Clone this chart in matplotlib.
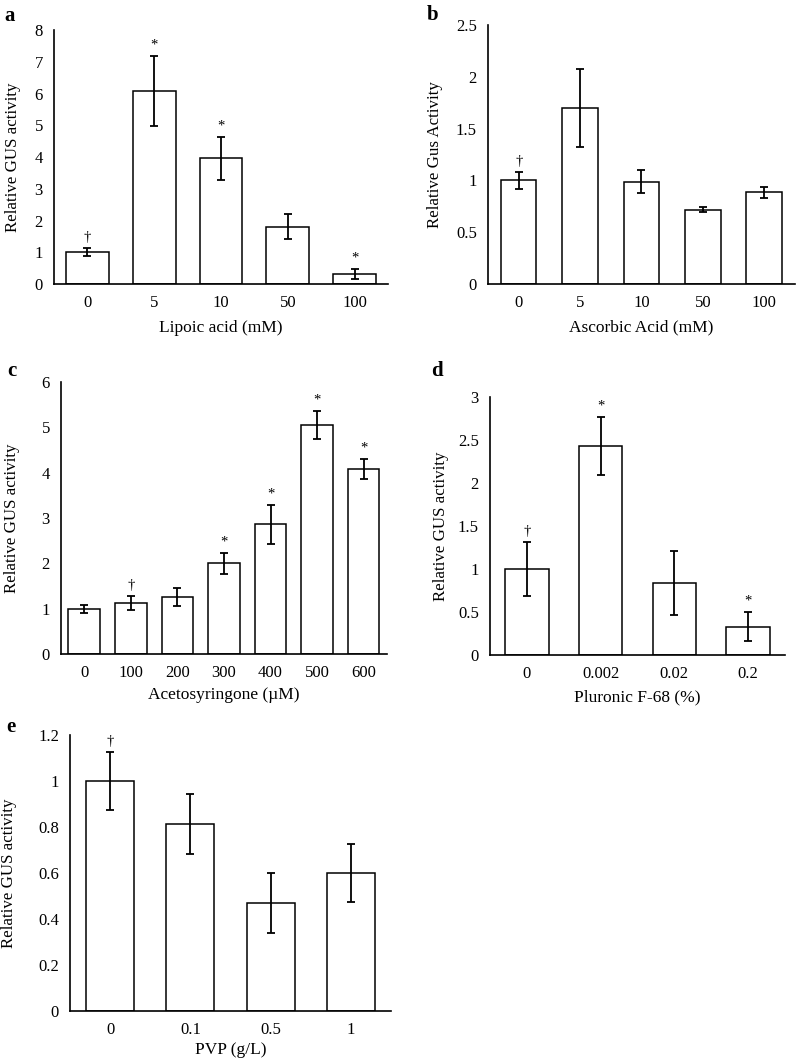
import numpy as np
import matplotlib
matplotlib.use("Agg")
import matplotlib.pyplot as plt

plt.rcParams["font.family"] = ["Liberation Serif", "DejaVu Serif"]

# panel a: lipoic acid
lip_cats = ["0", "5", "10", "50", "100"]
lip_vals = [1.0, 6.09, 3.96, 1.81, 0.32]
lip_err = [0.13, 1.1, 0.68, 0.4, 0.17]
lip_marks = ["\u2020", "*", "*", "", "*"]

# panel b: ascorbic acid
asc_cats = ["0", "5", "10", "50", "100"]
asc_vals = [1.0, 1.70, 0.99, 0.72, 0.885]
asc_err = [0.085, 0.38, 0.11, 0.025, 0.055]
asc_marks = ["\u2020", "", "", "", ""]

# panel c: acetosyringone
aceto_cats = ["0", "100", "200", "300", "400", "500", "600"]
aceto_vals = [0.99, 1.13, 1.26, 2.0, 2.86, 5.06, 4.09]
aceto_err = [0.09, 0.15, 0.2, 0.23, 0.43, 0.31, 0.22]
aceto_marks = ["", "\u2020", "", "*", "*", "*", "*"]

# panel d: pluronic F-68
plur_cats = ["0", "0.002", "0.02", "0.2"]
plur_vals = [1.0, 2.43, 0.84, 0.33]
plur_err = [0.31, 0.34, 0.37, 0.17]
plur_marks = ["\u2020", "*", "", "*"]

# panel e: PVP
pvp_cats = ["0", "0.1", "0.5", "1"]
pvp_vals = [1.0, 0.813, 0.47, 0.60]
pvp_err = [0.127, 0.13, 0.13, 0.128]
pvp_marks = ["\u2020", "", "", ""]


def bar_panel(ax, cats, vals, errs, marks, ylim, ystep, xlabel, ylabel,
              letter, letter_pos, width=0.62, ylab_x=-0.13, xlabpad=7):
    x = np.arange(len(cats))
    ax.bar(x, vals, width=width, color="white", edgecolor="black", lw=1.1,
           yerr=errs, error_kw=dict(ecolor="black", elinewidth=1.3,
                                    capsize=3.2, capthick=1.3))
    for xi, v, e, m in zip(x, vals, errs, marks):
        if m:
            ax.annotate(m, (xi, v + e), xytext=(0, 3), textcoords="offset points",
                        ha="center", va="bottom", fontsize=10.5)
    ax.set_xlim(-0.5, len(cats) - 0.5)
    ax.set_ylim(0, ylim)
    ticks = np.arange(0, ylim + ystep / 2, ystep)
    ax.set_yticks(ticks)
    ax.set_yticklabels([f"{t:g}" for t in ticks])
    ax.set_xticks(x)
    ax.set_xticklabels(cats)
    ax.tick_params(axis="both", length=0, labelsize=12)
    ax.tick_params(axis="y", pad=8)
    ax.tick_params(axis="x", pad=8)
    for s in ("top", "right"):
        ax.spines[s].set_visible(False)
    ax.spines["left"].set_linewidth(1.2)
    ax.spines["bottom"].set_linewidth(1.2)
    ax.set_xlabel(xlabel, fontsize=12.5, labelpad=xlabpad)
    ax.set_ylabel(ylabel, fontsize=12.2)
    ax.yaxis.set_label_coords(ylab_x, 0.5)
    ax.text(letter_pos[0], letter_pos[1], letter, transform=ax.transAxes,
            fontsize=15, fontweight="bold", ha="left", va="center")


fig = plt.figure(figsize=(7.97, 10.64), dpi=100)

ax_a = fig.add_axes([0.0678, 0.733, 0.419, 0.2387])
bar_panel(ax_a, lip_cats, lip_vals, lip_err, lip_marks, 8, 1,
          "Lipoic acid (mM)", "Relative GUS activity", "a", (-0.15, 1.055),
          width=0.64, ylab_x=-0.10, xlabpad=6)

ax_b = fig.add_axes([0.6123, 0.733, 0.385, 0.2434])
bar_panel(ax_b, asc_cats, asc_vals, asc_err, asc_marks, 2.5, 0.5,
          "Ascorbic Acid (mM)", "Relative Gus Activity", "b", (-0.2, 1.04),
          width=0.58, ylab_x=-0.146, xlabpad=6)

ax_c = fig.add_axes([0.0765, 0.3853, 0.409, 0.2556])
bar_panel(ax_c, aceto_cats, aceto_vals, aceto_err, aceto_marks, 6, 1,
          "Acetosyringone (\u00b5M)", "Relative GUS activity", "c", (-0.165, 1.04),
          width=0.68, ylab_x=-0.126, xlabpad=4)

ax_d = fig.add_axes([0.6148, 0.3844, 0.370, 0.2425])
bar_panel(ax_d, plur_cats, plur_vals, plur_err, plur_marks, 3, 0.5,
          "Pluronic F-68 (%)", "Relative GUS activity", "d", (-0.2, 1.1),
          width=0.59, ylab_x=-0.139, xlabpad=5)

ax_e = fig.add_axes([0.0878, 0.0498, 0.4028, 0.2594])
bar_panel(ax_e, pvp_cats, pvp_vals, pvp_err, pvp_marks, 1.2, 0.2,
          "PVP (g/L)", "Relative GUS activity", "e", (-0.2, 1.03),
          width=0.6, ylab_x=-0.165, xlabpad=3)

fig.savefig("out.png", dpi=100)
